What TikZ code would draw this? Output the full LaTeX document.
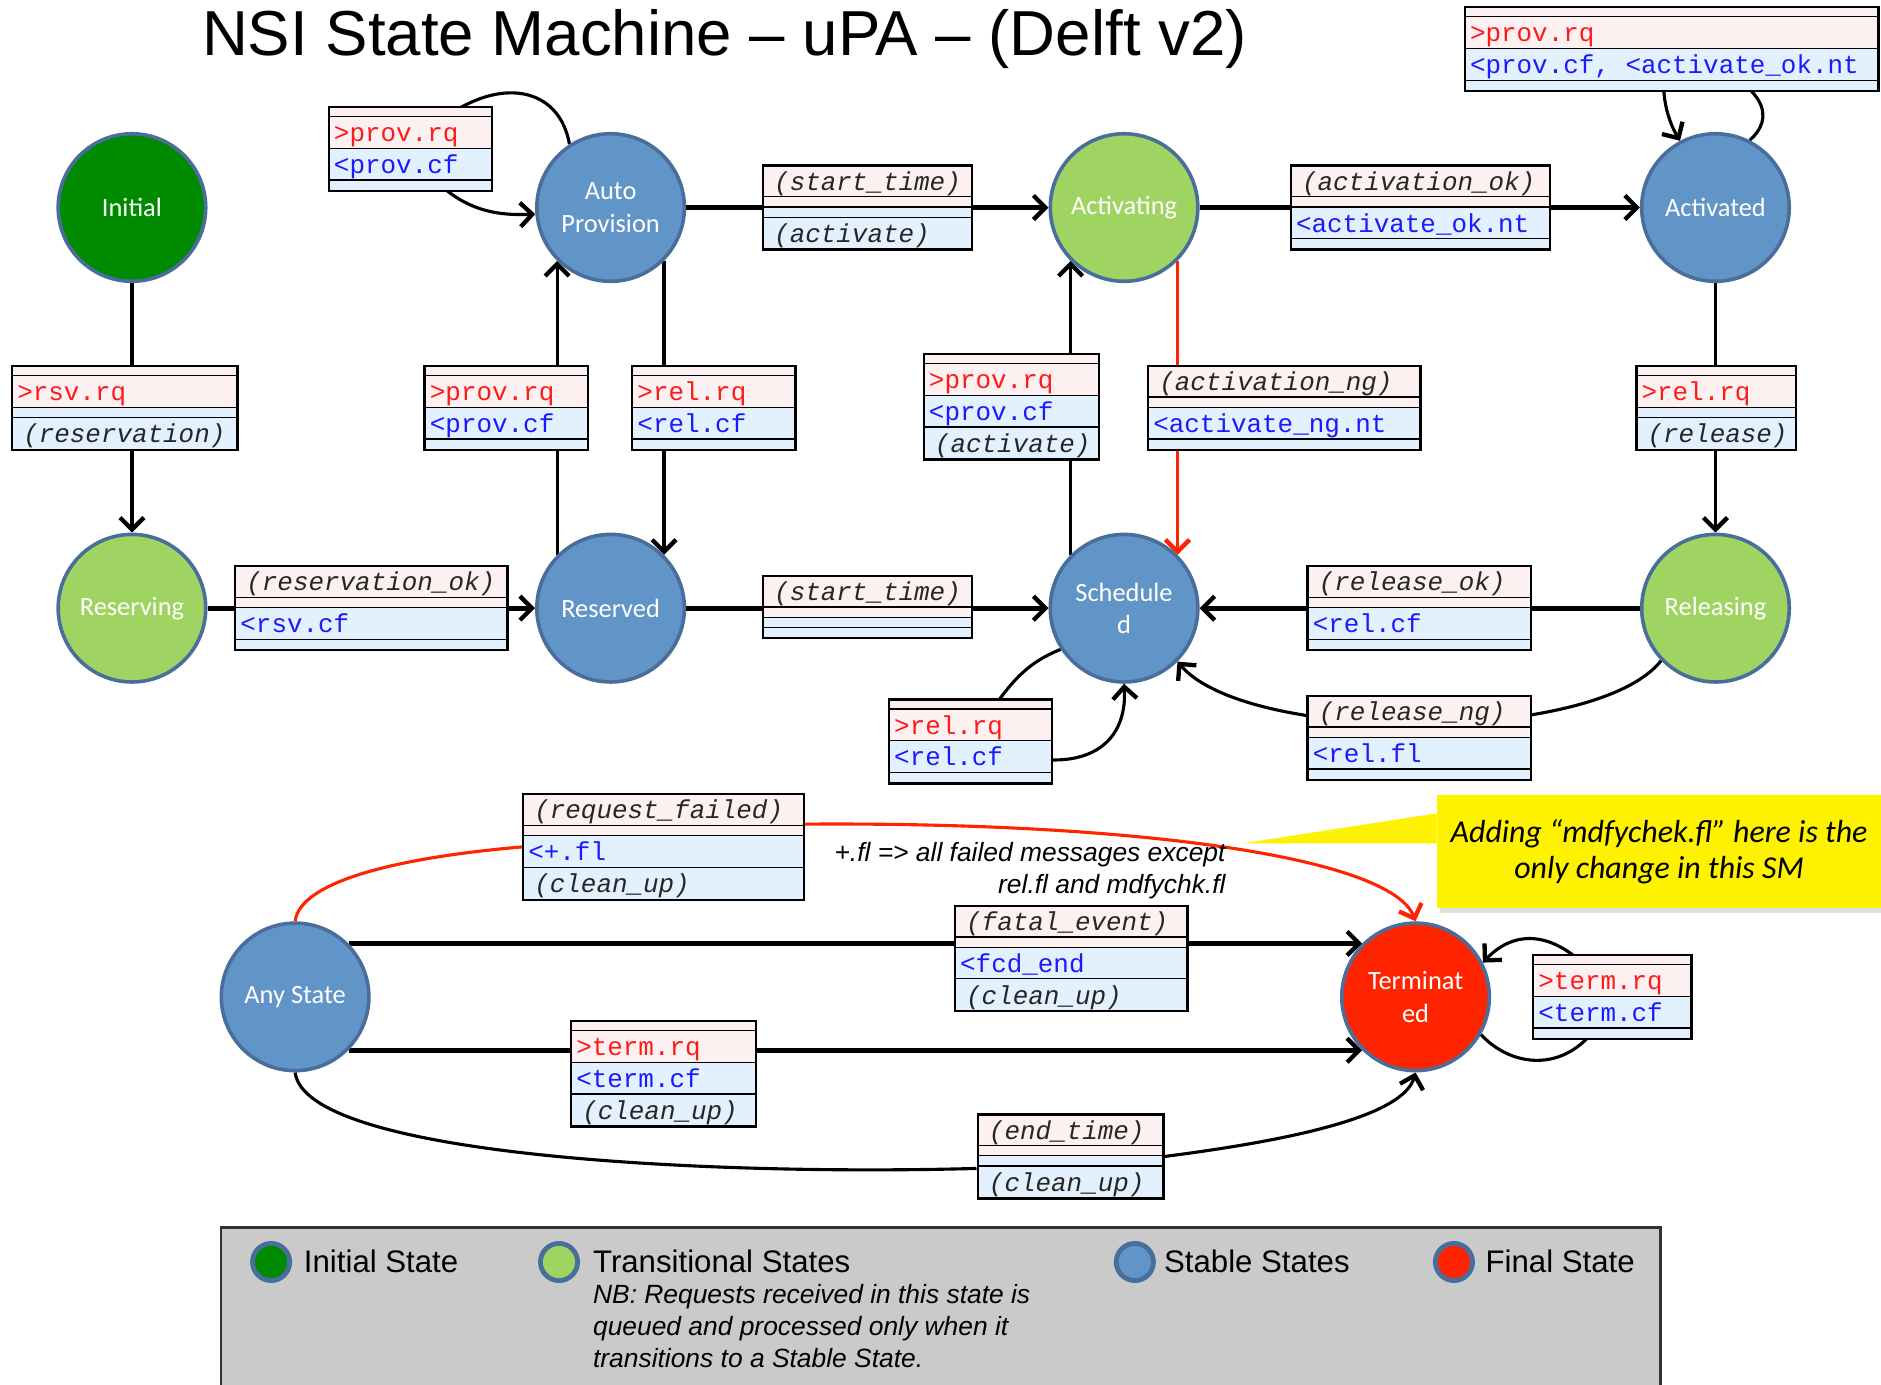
\documentclass[tikz,border=0pt]{standalone}
\usepackage{fontspec}
\setmainfont{Liberation Sans}
\setmonofont{Liberation Mono}
\newfontfamily\statefont{Carlito}
\usetikzlibrary{arrows.meta,fit,shadows}

\definecolor{ringblue}{HTML}{4A6E9C}
\definecolor{initgreen}{HTML}{008A00}
\definecolor{transgreen}{HTML}{A0D462}
\definecolor{stableblue}{HTML}{6195C8}
\definecolor{finalred}{HTML}{FF2400}
\definecolor{pkfill}{HTML}{FDF0F0}
\definecolor{blfill}{HTML}{E3F0FD}
\definecolor{msgred}{HTML}{FF1A1A}
\definecolor{msgblue}{HTML}{1A1AFF}
\definecolor{legendgray}{HTML}{CACACA}

\pgfdeclarelayer{back}
\pgfsetlayers{back,main}

\newcommand\msgin[1]{\hspace{2pt}\textcolor{msgred}{#1}}
\newcommand\msgout[1]{\hspace{2pt}\textcolor{msgblue}{#1}}
\newcommand\evname[1]{\hspace{4.5pt}\textcolor{black!85}{\textit{#1}}}

% one row of a message box: name, index, colour, width, text (empty text = thin row)
\newcommand\msgrow[5]{%
  \if\relax\detokenize{#5}\relax\def\rowht{8.5}\else\def\rowht{26.5}\fi
  \pgfmathsetmacro\rowbot{\rowtop+\rowht}%
  \fill[#3] ([shift={(0,-\rowtop)}]#1-nw) rectangle ([shift={(#4,-\rowbot)}]#1-nw);
  \draw[boxline] ([shift={(0,-\rowbot)}]#1-nw) -- ([shift={(#4,-\rowbot)}]#1-nw);
  \if\relax\detokenize{#5}\relax\else
    \node[rowtext] (#1-#2) at ([shift={(0,-\rowbot+6)}]#1-nw) {#5};
  \fi
  \let\rowtop\rowbot
}
% message box: name, top left corner, width, four rows
\newcommand\msgbox[7]{%
  \coordinate (#1-nw) at (#2);
  \def\rowtop{0}%
  \msgrow{#1}{1}{pkfill}{#3}{#4}%
  \msgrow{#1}{2}{pkfill}{#3}{#5}%
  \msgrow{#1}{3}{blfill}{#3}{#6}%
  \msgrow{#1}{4}{blfill}{#3}{#7}%
  \coordinate (#1-se) at ([shift={(#3,-\rowtop)}]#1-nw);
  \node[boxline, draw, inner sep=0pt, fit=(#1-nw)(#1-se)] (#1) {};
}

\tikzset{
  state/.style={circle, draw=ringblue, line width=1.5pt, minimum size=61.5pt, inner sep=0pt,
    text=white, align=center, font=\statefont\fontsize{11}{13.5}\selectfont},
  boxline/.style={line width=1pt},
  rowtext/.style={anchor=base west, inner sep=0pt, font=\ttfamily\fontsize{10.8}{13}\selectfont},
  transition/.style={line width=1.3pt, -{Straight Barb[length=5pt,width=10pt,line width=1.8pt]}},
  mainline/.style={line width=2pt},
  failtransition/.style={transition, draw=finalred},
  keydot/.style={circle, draw=ringblue, line width=2pt, minimum size=15.5pt, inner sep=0pt},
  keytext/.style={anchor=base west, inner sep=0pt, font=\fontsize{13}{15}\selectfont}
}

\begin{document}
\begin{tikzpicture}[x=0.5pt, y=0.5pt]
\useasboundingbox (0,0) rectangle (1568,-1154);

\node[anchor=base west, inner sep=0pt, font=\fontsize{26.5}{30}\selectfont] (title) at (168,-46) {NSI State Machine – uPA – (Delft v2)};

% states
\node[state, fill=initgreen] (init) at (110,-173) {Initial};
\node[state, fill=stableblue] (autoprov) at (509,-173) {Auto\\Provision};
\node[state, fill=transgreen] (activating) at (937,-173) {Activating};
\node[state, fill=stableblue] (activated) at (1430,-173) {Activated};
\node[state, fill=transgreen] (reserving) at (110,-507) {Reserving};
\node[state, fill=stableblue] (reserved) at (509,-507) {Reserved};
\node[state, fill=stableblue] (scheduled) at (937,-507) {Schedule\\d};
\node[state, fill=transgreen] (releasing) at (1430,-507) {Releasing};
\node[state, fill=stableblue] (anystate) at (246,-831) {Any State};
\node[state, fill=finalred] (terminated) at (1180,-831) {Terminat\\ed};

% message boxes
\msgbox{rsvrq}{10,-305}{188}{}{\msgin{>rsv.rq}}{}{\evname{(reservation)}}
\msgbox{aploop}{274,-89}{136}{}{\msgin{>prov.rq}}{\msgout{<prov.cf}}{}
\msgbox{provrq}{354,-305}{136}{}{\msgin{>prov.rq}}{\msgout{<prov.cf}}{}
\msgbox{relrq}{527,-305}{136}{}{\msgin{>rel.rq}}{\msgout{<rel.cf}}{}
\msgbox{starta}{636,-138}{174}{\evname{(start\_time)}}{}{}{\evname{(activate)}}
\msgbox{actok}{1076,-138}{216}{\evname{(activation\_ok)}}{}{\msgout{<activate\_ok.nt}}{}
\msgbox{actloop}{1221,-6}{345}{}{\msgin{>prov.rq}}{\msgout{<prov.cf, <activate\_ok.nt}}{}
\msgbox{relrel}{1364,-305}{133}{}{\msgin{>rel.rq}}{}{\evname{(release)}}
\msgbox{provact}{770,-295}{146}{}{\msgin{>prov.rq}}{\msgout{<prov.cf}}{\evname{(activate)}}
\msgbox{actng}{957,-305}{227}{\evname{(activation\_ng)}}{}{\msgout{<activate\_ng.nt}}{}
\msgbox{rsvok}{196,-472}{227}{\evname{(reservation\_ok)}}{}{\msgout{<rsv.cf}}{}
\msgbox{startb}{636,-480}{174}{\evname{(start\_time)}}{}{}{}
\msgbox{relok}{1090,-472}{186}{\evname{(release\_ok)}}{}{\msgout{<rel.cf}}{}
\msgbox{relng}{1090,-580}{186}{\evname{(release\_ng)}}{}{\msgout{<rel.fl}}{}
\msgbox{schloop}{741,-583}{136}{}{\msgin{>rel.rq}}{\msgout{<rel.cf}}{}
\msgbox{reqfail}{436,-662}{234}{\evname{(request\_failed)}}{}{\msgout{<+.fl}}{\evname{(clean\_up)}}
\msgbox{fatal}{796,-755}{194}{\evname{(fatal\_event)}}{}{\msgout{<fcd\_end}}{\evname{(clean\_up)}}
\msgbox{termrq}{476,-851}{154}{}{\msgin{>term.rq}}{\msgout{<term.cf}}{\evname{(clean\_up)}}
\msgbox{endtime}{815,-929}{155}{\evname{(end\_time)}}{}{}{\evname{(clean\_up)}}
\msgbox{termloop}{1278,-796}{132}{}{\msgin{>term.rq}}{\msgout{<term.cf}}{}

% notes
\node[anchor=base east, inner sep=0pt, align=right, font=\itshape\fontsize{11}{13.25}\selectfont] (flnote) at (1022,-745) {+.fl => all failed messages except\\rel.fl and mdfychk.fl};
\coordinate (notetip) at (1036,-703);
\node[fill=yellow, minimum width=185pt, minimum height=47pt, inner sep=0pt,
  drop shadow={opacity=0.25, shadow xshift=1pt, shadow yshift=-2pt}, align=center,
  font=\statefont\itshape\fontsize{13.3}{15}\selectfont] (change) at (1383,-710) {Adding “mdfychek.fl” here is the\\only change in this SM};
\fill[yellow] (notetip) -- ([yshift=16pt]change.west) -- ([yshift=3.5pt]change.west) -- cycle;

% transitions
\begin{pgfonlayer}{back}
\draw[transition] (init) -- (reserving);
\draw[transition, mainline] (reserving) -- (reserved);
\draw[transition] (reserved.135) -- (autoprov.225);
\draw[transition] (autoprov.-45) -- (reserved.45);
\draw[transition] (autoprov.123) .. controls (465,-65) and (400,-60) .. (aploop.center) .. controls (375,-175) and (410,-180) .. (autoprov.185);
\draw[transition, mainline] (autoprov) -- (activating);
\draw[transition, mainline] (activating) -- (activated);
\draw[transition] (activated.63) .. controls (1478,-100) and (1480,-70) .. (actloop.center) .. controls (1380,-70) and (1390,-100) .. (activated.118);
\draw[transition] (activated) -- (releasing);
\draw[transition, mainline] (releasing) -- (scheduled);
\draw[transition] (releasing.224) .. controls (1330,-620) and (1040,-620) .. (scheduled.-45);
\draw[transition] (scheduled.135) -- (activating.225);
\draw[failtransition, line width=1pt] (activating.-45) -- (scheduled.45);
\draw[transition, mainline] (reserved) -- (scheduled);
\draw[transition] (scheduled.213) .. controls (850,-555) and (838,-575) .. (schloop.center) .. controls (905,-655) and (940,-620) .. (scheduled.270);
\draw[failtransition] (anystate.90) .. controls (250,-735) and (330,-715) .. (reqfail.west)
  ([yshift=-13pt]reqfail.north east) .. controls (950,-685) and (1160,-715) .. (terminated.90);
\draw[transition, mainline] (anystate.45) -- (terminated.135);
\draw[transition, mainline] (anystate.-45) -- (terminated.-135);
\draw[transition] (anystate.-90) .. controls (255,-965) and (600,-980) .. ([yshift=-5pt]endtime.west)
  (endtime.east) .. controls (1080,-950) and (1170,-930) .. (terminated.-90);
\draw[transition] (terminated.-30) .. controls (1265,-895) and (1320,-895) .. (termloop.center) .. controls (1300,-770) and (1262,-775) .. (terminated.27);
\end{pgfonlayer}

% legend
\node[draw=black!80, fill=legendgray, line width=1.2pt, minimum width=600pt, minimum height=75pt, anchor=north west, inner sep=0pt] (legend) at (183,-1022) {};
\node[keydot, fill=initgreen] (keyinit) at (226,-1052) {};
\node[keytext] (keyinittext) at (253,-1061) {Initial State};
\node[keydot, fill=transgreen] (keytrans) at (466,-1052) {};
\node[keytext] (keytranstext) at (494,-1061) {Transitional States};
\node[anchor=base west, inner sep=0pt, align=left, font=\itshape\fontsize{11}{13.25}\selectfont] (keynb) at (494,-1140) {NB: Requests received in this state is\\queued and processed only when it\\transitions to a Stable State.};
\node[keydot, fill=stableblue] (keystable) at (946,-1052) {};
\node[keytext] (keystabletext) at (970,-1061) {Stable States};
\node[keydot, fill=finalred] (keyfinal) at (1212,-1052) {};
\node[keytext] (keyfinaltext) at (1238,-1061) {Final State};
\end{tikzpicture}
\end{document}
